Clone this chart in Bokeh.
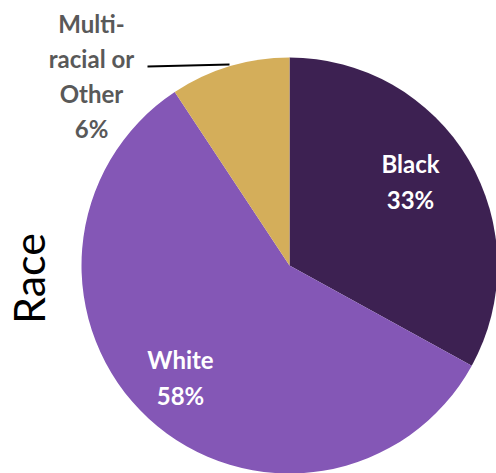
import math
from bokeh.plotting import figure
from bokeh.models import Range1d
from bokeh.core.properties import value
from bokeh.embed import file_html
from bokeh.resources import INLINE

# ---- data ----
categories = ["Black", "White", "Multi-racial or Other"]
shares = [33.0, 57.7, 9.3]          # slice sizes
pct_labels = ["33%", "58%", "6%"]   # percentages as printed
colors = ["#3D2152", "#8457B6", "#D4AE5A"]
axis_title = "Race"

W, H = 496, 473
p = figure(width=W, height=H, output_backend="svg", toolbar_location=None,
           x_range=Range1d(0, W), y_range=Range1d(0, H), min_border=0)
p.axis.visible = False
p.grid.visible = False
p.outline_line_color = None
p.background_fill_color = "white"

def Y(y):
    return H - y

cx, cy, r = 289, Y(265), 208
total = sum(shares)
start = math.pi / 2
for s, c in zip(shares, colors):
    end = start - 2 * math.pi * s / total
    p.wedge(x=cx, y=cy, radius=r, start_angle=start, end_angle=end,
            direction="clock", fill_color=c, line_color=None)
    start = end

font = value("Lato")
fs = "24px"
dy = -9
# Black
p.text(x=[410, 410], y=[Y(172 + dy), Y(208 + dy)], text=[categories[0], pct_labels[0]],
       text_font=font, text_font_style="bold", text_font_size=fs,
       text_color="white", text_align="center", text_baseline="alphabetic")
# White
p.text(x=[180, 180], y=[Y(368 + dy), Y(404 + dy)], text=[categories[1], pct_labels[1]],
       text_font=font, text_font_style="bold", text_font_size=fs,
       text_color="white", text_align="center", text_baseline="alphabetic")
# Multi-racial or Other
p.text(x=[91, 91, 91, 91], y=[Y(32 + dy), Y(67 + dy), Y(102 + dy), Y(137 + dy)],
       text=["Multi-", "racial or", "Other", pct_labels[2]],
       text_font=font, text_font_style="bold", text_font_size=fs,
       text_color="#595959", text_align="center", text_baseline="alphabetic")
# leader line
p.line(x=[147, 229], y=[Y(66), Y(64)], line_color="black", line_width=2)

# axis-like title
p.text(x=[28], y=[Y(278)], text=[axis_title], angle=math.pi / 2,
       text_font=font, text_font_size="43px", text_color="black",
       text_align="center", text_baseline="middle")

open("out.html", "w").write(file_html(p, INLINE))
